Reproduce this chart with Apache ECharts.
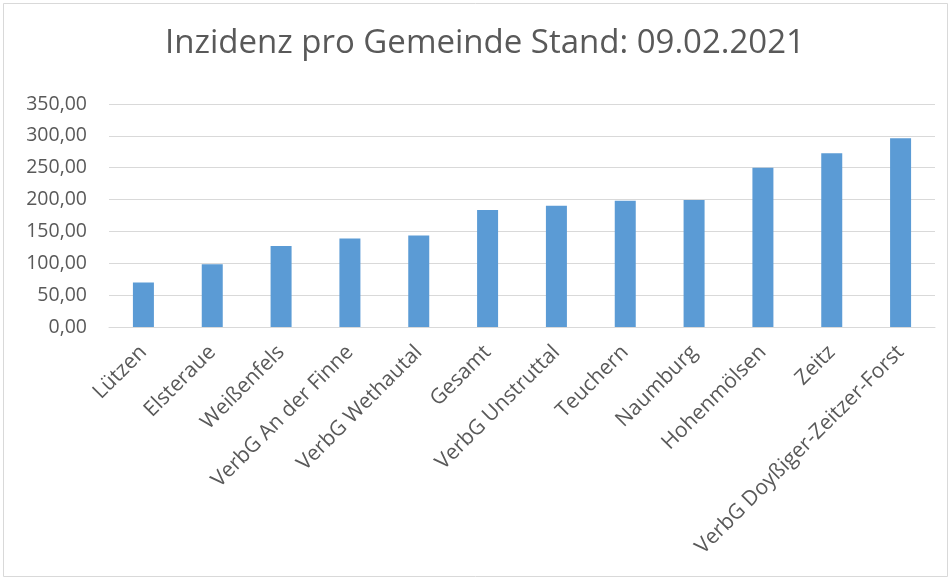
<!DOCTYPE html>
<html><head><meta charset="utf-8">
<script src="https://cdn.jsdelivr.net/npm/echarts@6/dist/echarts.min.js"></script>
<style>html,body{margin:0;padding:0;background:#fff}#c{width:952px;height:581px}</style>
</head><body><div id="c"></div>
<script>
const titleText = 'Inzidenz pro Gemeinde Stand: 09.02.2021';
const categories = ['Lützen','Elsteraue','Weißenfels','VerbG An der Finne','VerbG Wethautal','Gesamt','VerbG Unstruttal','Teuchern','Naumburg','Hohenmölsen','Zeitz','VerbG Doyßiger-Zeitzer-Forst'];
const values = [70, 98.6, 127, 139, 143.7, 183.5, 190.3, 198.1, 199.2, 250, 272.6, 296.2];
const yTicks = [0, 50, 100, 150, 200, 250, 300, 350];

const chart = echarts.init(document.getElementById('c'), null, {renderer:'canvas'});
const font = '"Open Sans", sans-serif';
chart.setOption({
  animation: false,
  backgroundColor: '#fff',
  title: {text: titleText, left: 160, top: 22, textStyle: {fontFamily: font, fontSize: 33, fontWeight: 'normal', color: '#595959'}},
  grid: {left: 109, right: 17, top: 104, bottom: 254, containLabel: false},
  graphic: [{type:'rect', shape:{x:3.5,y:3.5,width:944,height:573}, style:{fill:'none', stroke:'#d9d9d9', lineWidth:1}, silent:true}],
  xAxis: {
    type: 'category', data: categories,
    axisLine: {lineStyle: {color: '#d9d9d9', width: 1}},
    axisTick: {show: false},
    axisLabel: {rotate: 45, interval: 0, margin: 22, fontFamily: font, fontSize: 21, color: '#595959'}
  },
  yAxis: {
    type: 'value', min: yTicks[0], max: yTicks[yTicks.length-1], interval: 50,
    axisLine: {show: false}, axisTick: {show: false},
    splitLine: {lineStyle: {color: '#d9d9d9', width: 1}},
    axisLabel: {margin: 22, fontFamily: font, fontSize: 19.5, color: '#595959',
      formatter: v => v.toFixed(2).replace('.', ',')}
  },
  series: [{type: 'bar', data: values, barWidth: 21, itemStyle: {color: '#5b9bd5'}}]
});
</script></body></html>
